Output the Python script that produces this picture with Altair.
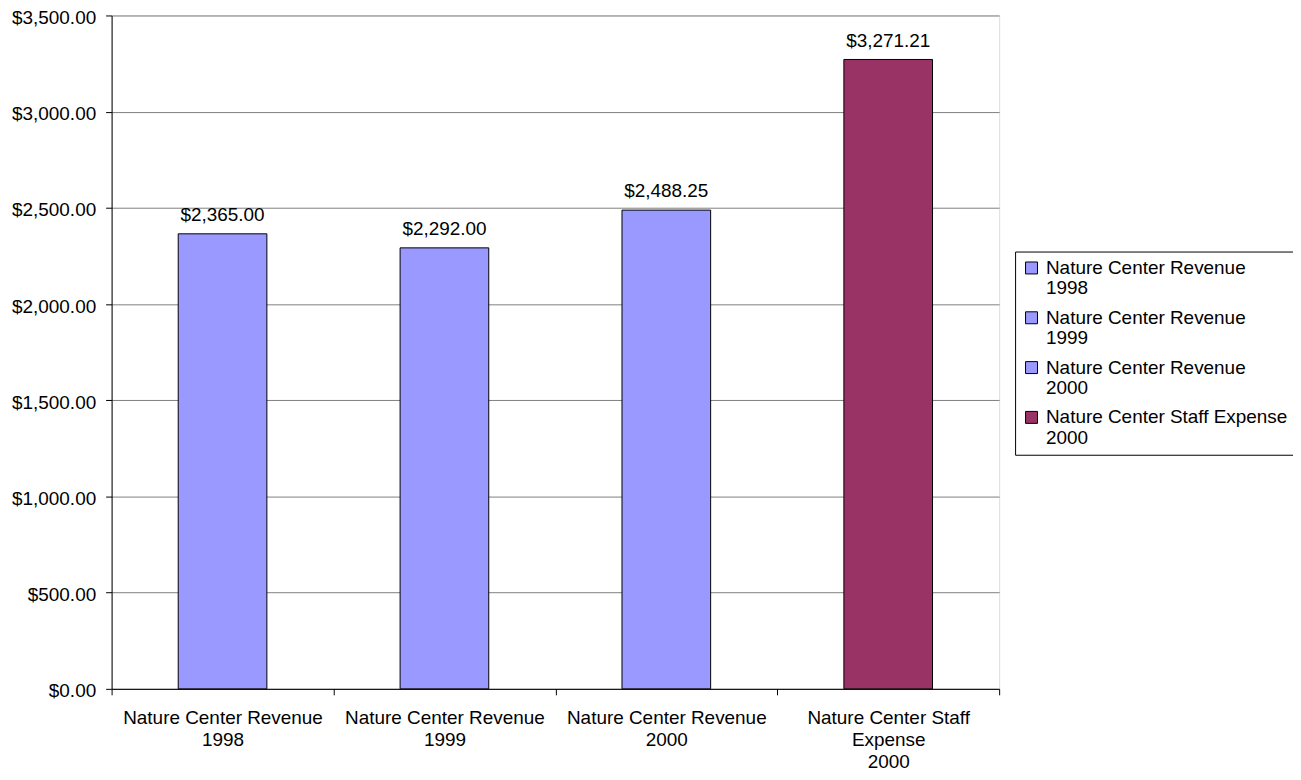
import altair as alt
import pandas as pd

categories = [
    "Nature Center Revenue 1998",
    "Nature Center Revenue 1999",
    "Nature Center Revenue 2000",
    "Nature Center Staff Expense 2000",
]
values = [2365.00, 2292.00, 2488.25, 3271.21]
colors = ["#9999FF", "#9999FF", "#9999FF", "#993366"]
axis_label_lines = [
    ["Nature Center Revenue", "1998"],
    ["Nature Center Revenue", "1999"],
    ["Nature Center Revenue", "2000"],
    ["Nature Center Staff", "Expense", "2000"],
]
legend_label_lines = [
    ["Nature Center Revenue", "1998"],
    ["Nature Center Revenue", "1999"],
    ["Nature Center Revenue", "2000"],
    ["Nature Center Staff Expense", "2000"],
]
y_ticks = [0, 500, 1000, 1500, 2000, 2500, 3000, 3500]

df = pd.DataFrame({"category": categories, "value": values})


def js_list(lst):
    return "[" + ",".join("'" + s + "'" for s in lst) + "]"


def label_expr(lines_list):
    e = ""
    for c, lines in zip(categories, lines_list):
        e += f"datum.label == '{c}' ? {js_list(lines)} : "
    return e + "datum.label"


FONT = "Liberation Sans"
FS = 19
SHIFT = 6  # vertical shift applied to all guide labels via style

x_enc = alt.X(
    "category:N",
    sort=categories,
    title=None,
    scale=alt.Scale(paddingInner=0, paddingOuter=0),
    axis=alt.Axis(
        labelAngle=0,
        labelExpr=label_expr(axis_label_lines),
        tickBand="extent",
        tickSize=6,
        labelPadding=8,
        labelLineHeight=22,
        labelBaseline="top",
        domainColor="black",
        tickColor="black",
        grid=False,
        labelLimit=0,
        labelFontSize=FS,
        labelColor="black",
        labelFont=FONT,
    ),
)

y_enc = alt.Y(
    "value:Q",
    scale=alt.Scale(domain=[0, 3500], nice=False),
    axis=alt.Axis(
        values=y_ticks,
        format="$,.2f",
        title=None,
        tickSize=6,
        labelPadding=10,
        labelOffset=-4,
        gridColor="#808080",
        domainColor="black",
        tickColor="black",
        labelFontSize=FS,
        labelColor="black",
        labelFont=FONT,
    ),
)

bars = alt.Chart(df).mark_bar(size=89, stroke="black", strokeWidth=1).encode(
    x=x_enc,
    y=y_enc,
    color=alt.Color(
        "category:N",
        sort=categories,
        scale=alt.Scale(domain=categories, range=colors),
        legend=alt.Legend(
            orient="none",
            legendX=907,
            legendY=237,
            title=None,
            strokeColor="black",
            fillColor="white",
            padding=7,
            rowPadding=10,
            symbolType="square",
            symbolSize=144,
            symbolStrokeColor="black",
            symbolStrokeWidth=1,
            labelOffset=5,
            labelBaseline="alphabetic",
            labelFontSize=FS,
            labelFont=FONT,
            labelColor="black",
            labelLimit=0,
            labelExpr=label_expr(legend_label_lines),
        ),
    ),
)

texts = alt.Chart(df).mark_text(
    dy=-13, baseline="alphabetic", fontSize=FS, font=FONT, color="black"
).encode(
    x=alt.X("category:N", sort=categories),
    y=alt.Y("value:Q"),
    text=alt.Text("value:Q", format="$,.2f"),
)

chart = (
    alt.layer(bars, texts)
    .properties(
        width=891,
        height=676,
        autosize=alt.AutoSizeParams(type="none"),
        padding={"left": 104, "top": 6, "right": 295, "bottom": 82},
        background="white",
    )
    .configure_view(stroke="black", strokeWidth=1)
    .configure(font=FONT, style={"guide-label": {"dy": SHIFT, "lineHeight": 20.5}})
)

chart.save("out.html", embed_options={"renderer": "svg", "actions": False})
